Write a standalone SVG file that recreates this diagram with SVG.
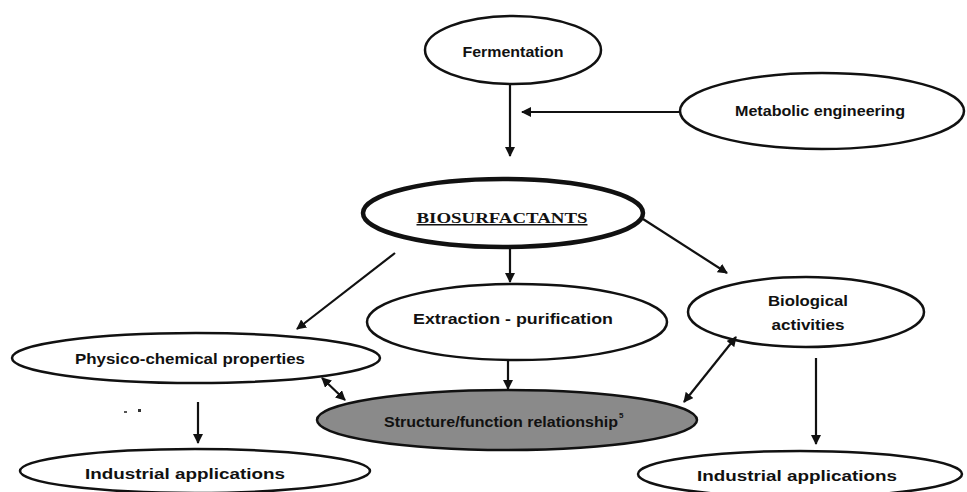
<svg xmlns="http://www.w3.org/2000/svg" width="967" height="492" viewBox="0 0 967 492">
<defs>
<marker id="ah" viewBox="0 0 10 10" refX="9" refY="5" markerWidth="10" markerHeight="10" markerUnits="userSpaceOnUse" orient="auto-start-reverse">
<path d="M0,0 L10,5 L0,10 Z" fill="#111"/>
</marker>
<style>
.n{fill:#fff;stroke:#111;stroke-width:2.5}
.t{font-family:"Liberation Sans",Arial,sans-serif;font-weight:bold;font-size:15px;fill:#111;text-anchor:middle}
.c line{stroke:#111;stroke-width:2.2}
</style>
</defs>
<rect width="967" height="492" fill="#fff"/>
<g id="fermentation">
<ellipse class="n" cx="513" cy="50" rx="88" ry="34"/>
<text class="t" x="513" y="57" textLength="101" lengthAdjust="spacingAndGlyphs">Fermentation</text>
</g>
<g id="metabolic">
<ellipse class="n" cx="822" cy="111" rx="142" ry="38"/>
<text class="t" x="820" y="116" textLength="170" lengthAdjust="spacingAndGlyphs">Metabolic engineering</text>
</g>
<g id="biosurfactants">
<ellipse cx="503" cy="213" rx="140" ry="34" fill="#fff" stroke="#111" stroke-width="4.5"/>
<text x="502" y="223" textLength="171" lengthAdjust="spacingAndGlyphs" style="font-family:'Liberation Serif','Times New Roman',serif;font-weight:bold;font-size:15px;fill:#111;text-anchor:middle;text-decoration:underline">BIOSURFACTANTS</text>
</g>
<g id="extraction">
<ellipse class="n" cx="517" cy="322" rx="150" ry="38"/>
<text class="t" x="513" y="324" textLength="200" lengthAdjust="spacingAndGlyphs">Extraction - purification</text>
</g>
<g id="biological">
<ellipse class="n" cx="806" cy="312" rx="118" ry="35"/>
<text class="t" x="808" y="306" textLength="80" lengthAdjust="spacingAndGlyphs">Biological</text>
<text class="t" x="808" y="330" textLength="73" lengthAdjust="spacingAndGlyphs">activities</text>
</g>
<g id="physico">
<ellipse class="n" cx="196" cy="358" rx="184" ry="25"/>
<text class="t" x="190" y="364" textLength="230" lengthAdjust="spacingAndGlyphs">Physico-chemical properties</text>
</g>
<g id="structure">
<ellipse cx="507" cy="420" rx="190" ry="30" fill="#8a8a8a" stroke="#111" stroke-width="2.5"/>
<text class="t" x="501" y="427" textLength="234" lengthAdjust="spacingAndGlyphs">Structure/function relationship</text>
<text x="619" y="418" style="font-family:'Liberation Sans',Arial,sans-serif;font-weight:bold;font-size:8px;fill:#111">5</text>
</g>
<g id="industrial-left">
<ellipse class="n" cx="195" cy="471" rx="175" ry="22"/>
<text class="t" x="185" y="479" textLength="200" lengthAdjust="spacingAndGlyphs">Industrial applications</text>
</g>
<g id="industrial-right">
<ellipse class="n" cx="800" cy="474" rx="162" ry="23"/>
<text class="t" x="797" y="481" textLength="200" lengthAdjust="spacingAndGlyphs">Industrial applications</text>
</g>
<g id="marks">
<rect x="124" y="411" width="3" height="2" fill="#555"/>
<rect x="138" y="409" width="3" height="3" fill="#333"/>
</g>
<g id="connectors" class="c">
<line x1="510" y1="84" x2="510" y2="156" marker-end="url(#ah)"/>
<line x1="680" y1="112" x2="522" y2="112" marker-end="url(#ah)"/>
<line x1="510" y1="248" x2="510" y2="282" marker-end="url(#ah)"/>
<line x1="395" y1="253" x2="297" y2="329" marker-end="url(#ah)"/>
<line x1="643" y1="219" x2="727" y2="273" marker-end="url(#ah)"/>
<line x1="508" y1="360" x2="508" y2="389" marker-end="url(#ah)"/>
<line x1="322" y1="378" x2="345" y2="400" marker-start="url(#ah)" marker-end="url(#ah)"/>
<line x1="736" y1="337" x2="684" y2="402" marker-start="url(#ah)" marker-end="url(#ah)"/>
<line x1="198" y1="402" x2="198" y2="443" marker-end="url(#ah)"/>
<line x1="816" y1="358" x2="816" y2="444" marker-end="url(#ah)"/>
</g>
</svg>
